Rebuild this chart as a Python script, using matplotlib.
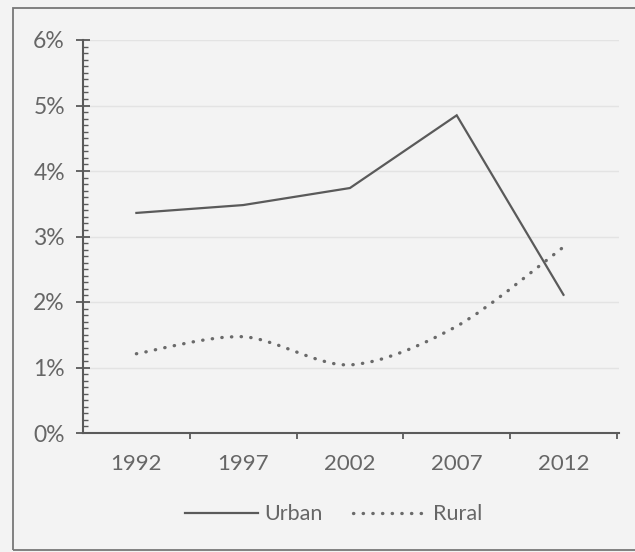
import matplotlib.pyplot as plt
import numpy as np
from matplotlib.path import Path
from matplotlib.patches import PathPatch
from matplotlib.lines import Line2D
from matplotlib.ticker import MultipleLocator, FixedLocator, FuncFormatter

plt.rcParams['font.family'] = ['Lato', 'DejaVu Sans']

years = ['1992', '1997', '2002', '2007', '2012']
urban = [3.36, 3.48, 3.74, 4.85, 2.11]   # percent
rural = [1.21, 1.47, 1.04, 1.63, 2.84]   # percent

ink = '#5a5a5a'
txt = '#666666'
bg = '#f3f3f3'


def smooth_path(x, y, t=0.5):
    '''cubic bezier through the points, catmull-rom style tangents'''
    x = np.asarray(x, float)
    y = np.asarray(y, float)
    n = len(x)
    verts = [(x[0], y[0])]
    codes = [Path.MOVETO]
    for i in range(n - 1):
        i0 = max(i - 1, 0)
        i3 = min(i + 2, n - 1)
        c1 = (x[i] + (x[i+1] - x[i0]) * t / 3., y[i] + (y[i+1] - y[i0]) * t / 3.)
        c2 = (x[i+1] - (x[i3] - x[i]) * t / 3., y[i+1] - (y[i3] - y[i]) * t / 3.)
        verts += [c1, c2, (x[i+1], y[i+1])]
        codes += [Path.CURVE4] * 3
    return Path(verts, codes)


fig = plt.figure(figsize=(6.35, 5.52), dpi=100, facecolor=bg)
ax = fig.add_axes([83/635., 1 - 433/552., (619 - 83)/635., (433 - 40)/552.])
ax.set_facecolor(bg)

xpos = np.arange(len(years))

# faint horizontal grid
for g in range(1, 7):
    ax.axhline(g, color='#e3e3e3', lw=1.0, zorder=0)

ax.plot(xpos, urban, color=ink, lw=1.6, solid_joinstyle='miter', zorder=3)

dots = (0, (0.1, 2.8))
ax.add_patch(PathPatch(smooth_path(xpos, rural, t=0.45), fill=False, edgecolor='#6a6a6a',
                       lw=2.4, linestyle=dots, capstyle='round', zorder=3))

ax.set_xlim(-0.5, 4.52)
ax.set_ylim(0, 6)

for s in ['top', 'right']:
    ax.spines[s].set_visible(False)
for s in ['left', 'bottom']:
    ax.spines[s].set_color(ink)
    ax.spines[s].set_linewidth(1.5)

ax.yaxis.set_major_locator(MultipleLocator(1))
ax.yaxis.set_minor_locator(MultipleLocator(0.1))
ax.yaxis.set_major_formatter(FuncFormatter(lambda v, p: '%d%%' % round(v)))
ax.tick_params(axis='y', which='major', direction='inout', length=10, width=1.3,
               color=ink, labelsize=16.5, labelcolor=txt, pad=8)
ax.tick_params(axis='y', which='minor', direction='in', length=3.5, width=1.0, color=ink)

ax.set_xticks(xpos)
ax.set_xticklabels(years)
ax.xaxis.set_minor_locator(FixedLocator(xpos + 0.5))
ax.tick_params(axis='x', which='major', length=0, labelsize=16, labelcolor=txt, pad=15)
ax.tick_params(axis='x', which='minor', direction='out', length=4, width=1.3, color=ink)

handles = [Line2D([], [], color=ink, lw=1.6),
           Line2D([], [], color='#6a6a6a', lw=2.4, linestyle=dots, dash_capstyle='round')]
leg = fig.legend(handles, ['Urban', 'Rural'], loc='center', bbox_to_anchor=(0.525, 0.068),
                 ncol=2, frameon=False, fontsize=15.5, handlelength=3.4, handletextpad=0.3,
                 columnspacing=1.4)
for t in leg.get_texts():
    t.set_color(txt)

# outer frame of the figure box
fig.add_artist(plt.Rectangle((13/635., 2/552.), 1.2, 1 - 10/552., transform=fig.transFigure,
                             fill=False, edgecolor='#777777', lw=1.3))

fig.savefig('out.png', dpi=100, facecolor=bg)
